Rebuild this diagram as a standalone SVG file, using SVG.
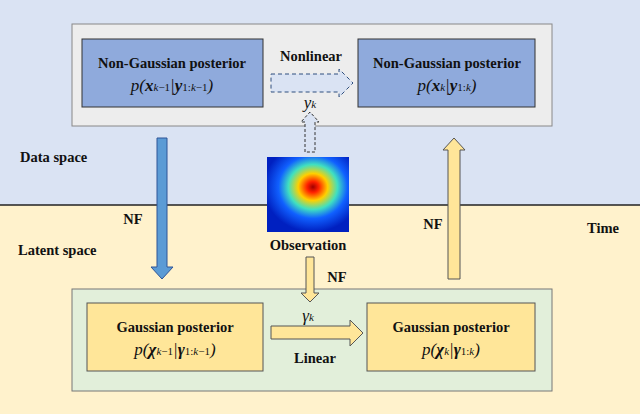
<svg xmlns="http://www.w3.org/2000/svg" width="640" height="414" viewBox="0 0 640 414" font-family="'Liberation Serif','DejaVu Serif',serif">
<style>
text{font-family:'Liberation Serif','DejaVu Serif',serif;font-weight:bold;fill:#111;}
.t{font-size:14.5px;text-anchor:middle;}
.m{font-size:17px;font-style:italic;text-anchor:middle;font-weight:normal;}
.lbl{font-size:14.5px;}
.bn{fill:#8faadc;stroke:#333;stroke-width:1;}
.yn{fill:#ffe699;stroke:#555;stroke-width:1;}
</style>
<defs>
<radialGradient id="jet" cx="0.56" cy="0.4" r="0.6">
<stop offset="0" stop-color="#a00000"/>
<stop offset="0.12" stop-color="#ff2000"/>
<stop offset="0.3" stop-color="#ffd000"/>
<stop offset="0.5" stop-color="#40e0c0"/>
<stop offset="0.7" stop-color="#1060ff"/>
<stop offset="1" stop-color="#0020c0"/>
</radialGradient>
</defs>
<rect x="0" y="0" width="640" height="205" fill="#dae3f3"/>
<rect x="0" y="205" width="640" height="209" fill="#fff2cc"/>
<line x1="0" y1="205" x2="640" y2="205" stroke="#222" stroke-width="1.5"/>
<rect x="72" y="24" width="480" height="102" fill="#ededed" stroke="#888"/>
<rect x="72" y="289" width="480" height="102" fill="#e2efda" stroke="#777"/>
<text class="lbl" x="20" y="162">Data space</text>
<text class="lbl" x="18" y="255">Latent space</text>
<text class="lbl" x="587" y="233">Time</text>
<g id="n1"><rect class="bn" x="82" y="39" width="181" height="68"/>
<text class="t" x="172" y="68">Non-Gaussian posterior</text>
<text class="m" x="172" y="91">p(<tspan font-weight="bold">x</tspan><tspan font-size="11">k</tspan><tspan font-size="11" font-style="normal">−1</tspan>|<tspan font-weight="bold">y</tspan><tspan font-size="11" font-style="normal">1:</tspan><tspan font-size="11">k</tspan><tspan font-size="11" font-style="normal">−1</tspan>)</text></g>
<g id="n2"><rect class="bn" x="358" y="39" width="177" height="68"/>
<text class="t" x="447" y="68">Non-Gaussian posterior</text>
<text class="m" x="447" y="91">p(<tspan font-weight="bold">x</tspan><tspan font-size="11">k</tspan>|<tspan font-weight="bold">y</tspan><tspan font-size="11" font-style="normal">1:</tspan><tspan font-size="11">k</tspan>)</text></g>
<g id="n3"><rect class="yn" x="87" y="303" width="176" height="68"/>
<text class="t" x="175" y="332">Gaussian posterior</text>
<text class="m" x="175" y="355">p(<tspan font-weight="bold">χ</tspan><tspan font-size="11">k</tspan><tspan font-size="11" font-style="normal">−1</tspan>|<tspan font-weight="bold">γ</tspan><tspan font-size="11" font-style="normal">1:</tspan><tspan font-size="11">k</tspan><tspan font-size="11" font-style="normal">−1</tspan>)</text></g>
<g id="n4"><rect class="yn" x="367" y="303" width="168" height="68"/>
<text class="t" x="451" y="332">Gaussian posterior</text>
<text class="m" x="451" y="355">p(<tspan font-weight="bold">χ</tspan><tspan font-size="11">k</tspan>|<tspan font-weight="bold">γ</tspan><tspan font-size="11" font-style="normal">1:</tspan><tspan font-size="11">k</tspan>)</text></g>
<g id="obs"><rect x="267" y="157" width="82" height="75" fill="url(#jet)"/>
<text class="t" x="308" y="250">Observation</text></g>
<g id="connectors">
<path d="M271,74 H339 V69 L353,83 L339,97 V92 H271 Z" fill="#dae3f3" stroke="#2f4f7f" stroke-dasharray="4,3"/>
<text class="t" x="311" y="61">Nonlinear</text>
<text class="m" x="310" y="108" font-weight="bold">y<tspan font-size="11">k</tspan></text>
<path d="M305,152 V122 H301 L310,112 L319,122 H315 V152 Z" fill="#dae3f3" stroke="#333" stroke-dasharray="3,2"/>
<path d="M157,138 H167 V267 H173 L162,279 L151,267 H157 Z" fill="#5b9bd5" stroke="#2f5597"/>
<text class="t" x="133" y="224">NF</text>
<path d="M448,279 V150 H443 L454,138 L465,150 H460 V279 Z" fill="#ffe699" stroke="#555"/>
<text class="t" x="433" y="229">NF</text>
<path d="M306,257 H314 V293 H319 L310,302 L301,293 H306 Z" fill="#ffe699" stroke="#555"/>
<text class="t" x="337" y="282">NF</text>
<path d="M271,326 H350 V320 L363,333 L350,346 V339 H271 Z" fill="#ffe699" stroke="#555"/>
<text class="m" x="308" y="321" font-weight="bold">γ<tspan font-size="11" font-weight="normal">k</tspan></text>
<text class="t" x="315" y="363">Linear</text>
</g>
</svg>
